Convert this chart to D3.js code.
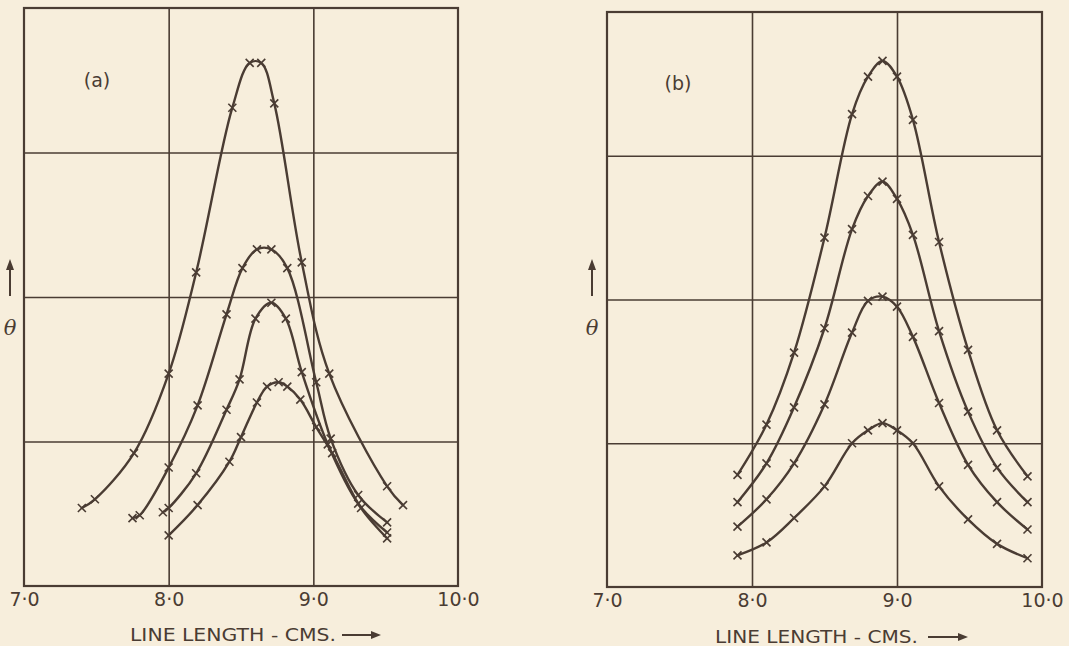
<!DOCTYPE html>
<html>
<head>
<meta charset="utf-8">
<script src="https://cdn.jsdelivr.net/npm/d3@7"></script>
<style>
  html, body { margin: 0; padding: 0; background: #f7eedc; }
  svg { display: block; }
</style>
</head>
<body>
<svg id="chart" width="1069" height="646"></svg>
<script>
// ---------- data ----------
const xTicks = [7, 8, 9, 10];
const xTickLabels = ["7·0", "8·0", "9·0", "10·0"];
const xGrid = [8, 9];
const yGrid = [1, 2, 3];
const panelLabels = ["(a)", "(b)"];
const axisTitle = "LINE LENGTH - CMS.";
const yTitle = "θ";

// panel (a)
const a1X = [7.40, 7.49, 7.76, 8.00, 8.19, 8.44, 8.56, 8.64, 8.73, 8.92, 9.11, 9.51, 9.62];
const a1Y = [0.54, 0.60, 0.92, 1.47, 2.17, 3.31, 3.62, 3.62, 3.34, 2.24, 1.47, 0.69, 0.56];
const a2X = [7.75, 7.80, 8.00, 8.20, 8.40, 8.51, 8.61, 8.71, 8.82, 9.02, 9.12, 9.31, 9.51];
const a2Y = [0.47, 0.49, 0.82, 1.25, 1.88, 2.20, 2.33, 2.33, 2.20, 1.41, 1.02, 0.63, 0.44];
const a3X = [7.96, 8.00, 8.19, 8.40, 8.49, 8.60, 8.71, 8.81, 8.92, 9.10, 9.31, 9.51];
const a3Y = [0.51, 0.54, 0.78, 1.22, 1.43, 1.85, 1.96, 1.85, 1.48, 0.98, 0.57, 0.37];
const a4X = [8.00, 8.20, 8.42, 8.50, 8.61, 8.68, 8.76, 8.82, 8.91, 9.02, 9.13, 9.33, 9.51];
const a4Y = [0.35, 0.56, 0.86, 1.03, 1.27, 1.38, 1.41, 1.38, 1.29, 1.10, 0.92, 0.54, 0.33];

// panel (b)
const bX  = [7.90, 8.10, 8.29, 8.50, 8.69, 8.80, 8.90, 9.00, 9.11, 9.29, 9.49, 9.69, 9.90];
const b1Y = [0.78, 1.13, 1.63, 2.43, 3.29, 3.55, 3.66, 3.55, 3.25, 2.40, 1.65, 1.09, 0.77];
const b2Y = [0.59, 0.86, 1.25, 1.80, 2.49, 2.72, 2.82, 2.70, 2.45, 1.78, 1.22, 0.83, 0.59];
const b3Y = [0.42, 0.61, 0.86, 1.27, 1.77, 1.99, 2.02, 1.95, 1.74, 1.28, 0.85, 0.59, 0.40];
const b4Y = [0.22, 0.31, 0.48, 0.70, 1.00, 1.09, 1.14, 1.09, 1.00, 0.70, 0.47, 0.30, 0.20];

// ---------- drawing ----------
const INK = "#4a3c33";
const FONT = "'DejaVu Sans', Lato, sans-serif";
const svg = d3.select("#chart");
svg.append("rect").attr("width", 1069).attr("height", 646).attr("fill", "#f7eedc");

const zip = (xs, ys) => xs.map((x, i) => [x, ys[i]]);

const panels = [
  { box: [24, 458, 8, 586], label: panelLabels[0], labelPos: [97, 80],
    series: [zip(a1X, a1Y), zip(a2X, a2Y), zip(a3X, a3Y), zip(a4X, a4Y)],
    titleX: 130, titleW: 206, titleY: 641, arrow: [342, 381, 635], thetaX: 10 },
  { box: [607, 1042, 12, 587], label: panelLabels[1], labelPos: [678, 83],
    series: [zip(bX, b1Y), zip(bX, b2Y), zip(bX, b3Y), zip(bX, b4Y)],
    titleX: 715, titleW: 203, titleY: 643, arrow: [928, 968, 637], thetaX: 592 }
];

panels.forEach(p => {
  const [x0, x1, y0, y1] = p.box;
  const x = d3.scaleLinear().domain([7, 10]).range([x0, x1]);
  const y = d3.scaleLinear().domain([0, 4]).range([y1, y0]);
  const g = svg.append("g");

  // grid lines
  const gx = g.append("g").attr("transform", `translate(0,${y1})`)
    .call(d3.axisBottom(x).tickValues(xGrid).tickSize(-(y1 - y0)).tickFormat(""));
  const gy = g.append("g").attr("transform", `translate(${x0},0)`)
    .call(d3.axisLeft(y).tickValues(yGrid).tickSize(-(x1 - x0)).tickFormat(""));
  [gx, gy].forEach(a => {
    a.select(".domain").remove();
    a.selectAll("line").attr("stroke", INK).attr("stroke-width", 1.6);
  });

  // frame
  g.append("rect").attr("x", x0).attr("y", y0).attr("width", x1 - x0).attr("height", y1 - y0)
    .attr("fill", "none").attr("stroke", INK).attr("stroke-width", 2.2);

  // tick labels
  const lab = g.append("g").attr("transform", `translate(0,${y1})`)
    .call(d3.axisBottom(x).tickValues(xTicks).tickSize(0).tickPadding(7)
      .tickFormat((d, i) => xTickLabels[i]));
  lab.select(".domain").remove();
  lab.selectAll("text").attr("font-family", FONT)
    .attr("font-size", 19).attr("fill", INK);

  // curves
  const line = d3.line().x(d => x(d[0])).y(d => y(d[1])).curve(d3.curveCatmullRom.alpha(0.5));
  p.series.forEach(s => {
    g.append("path").attr("d", line(s)).attr("fill", "none")
      .attr("stroke", INK).attr("stroke-width", 2.4).attr("stroke-linecap", "round");
    const m = 4;
    g.selectAll(null).data(s).enter().append("path")
      .attr("d", d => {
        const cx = x(d[0]), cy = y(d[1]);
        return `M${cx - m},${cy - m}L${cx + m},${cy + m}M${cx - m},${cy + m}L${cx + m},${cy - m}`;
      })
      .attr("stroke", INK).attr("stroke-width", 1.6).attr("fill", "none");
  });

  // panel label
  g.append("text").attr("x", p.labelPos[0]).attr("y", p.labelPos[1]).attr("dy", "0.35em")
    .attr("text-anchor", "middle").attr("font-family", FONT)
    .attr("font-size", 19).attr("fill", INK).text(p.label);

  // axis title
  g.append("text").attr("x", p.titleX).attr("y", p.titleY)
    .attr("font-family", FONT).attr("font-size", 17)
    .attr("textLength", p.titleW).attr("lengthAdjust", "spacingAndGlyphs")
    .attr("fill", INK).text(axisTitle);
  const [ax0, ax1, ay] = p.arrow;
  g.append("line").attr("x1", ax0).attr("x2", ax1 - 8).attr("y1", ay).attr("y2", ay)
    .attr("stroke", INK).attr("stroke-width", 2);
  g.append("path").attr("d", `M${ax1 - 10},${ay - 4}L${ax1},${ay}L${ax1 - 10},${ay + 4}Z`)
    .attr("fill", INK);

  // theta label with upward arrow
  g.append("line").attr("x1", p.thetaX).attr("x2", p.thetaX).attr("y1", 296).attr("y2", 268)
    .attr("stroke", INK).attr("stroke-width", 2);
  g.append("path").attr("d", `M${p.thetaX - 4},${270}L${p.thetaX},${259}L${p.thetaX + 4},${270}Z`)
    .attr("fill", INK);
  g.append("text").attr("x", p.thetaX).attr("y", 328).attr("dy", "0.35em")
    .attr("text-anchor", "middle").attr("font-family", "'DejaVu Serif', serif")
    .attr("font-style", "italic").attr("font-size", 21).attr("fill", INK).text(yTitle);
});
</script>
</body>
</html>
